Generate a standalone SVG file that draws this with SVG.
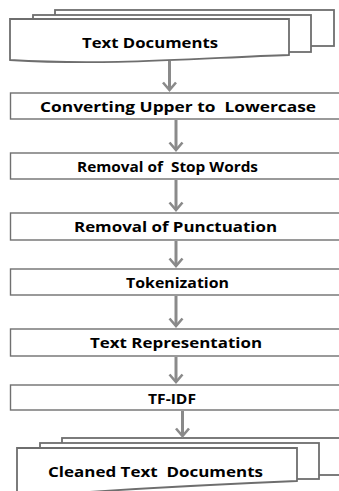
<svg xmlns="http://www.w3.org/2000/svg" width="339" height="491" viewBox="0 0 339 491">
  <style>
    .sheet { fill: #ffffff; stroke: #6e6e6e; stroke-width: 1.8; }
    .box { fill: #ffffff; stroke: #707070; stroke-width: 1.4; }
    .label { font-family: "Open Sans", "DejaVu Sans", sans-serif; font-weight: 700; font-size: 15px; fill: #000000; text-anchor: middle; white-space: pre; }
    .flow { stroke: #8a8a8a; stroke-width: 3; fill: none; marker-end: url(#chevron); }
  </style>
  <defs>
    <marker id="chevron" markerUnits="userSpaceOnUse" viewBox="-10 -9 12 18" refX="0" refY="0" markerWidth="12" markerHeight="18" orient="auto" overflow="visible">
      <path d="M-7.5,-6.5 L0,0 L-7.5,6.5" fill="none" stroke="#8a8a8a" stroke-width="2.6" stroke-linejoin="miter"/>
    </marker>
  </defs>

  <rect width="339" height="491" fill="#ffffff"/>

  <!-- source documents (stacked sheets) -->
  <g id="text-documents">
    <rect class="sheet" x="55" y="10" width="279" height="36"/>
    <rect class="sheet" x="33" y="15" width="278" height="37"/>
    <path class="sheet" d="M10,19 H289 V55 C200,58 110,66 10,60 Z"/>
    <text class="label" x="150" y="47.5" font-size="16" textLength="136" lengthAdjust="spacingAndGlyphs">Text Documents</text>
  </g>

  <g id="lowercase">
    <rect class="box" x="10.5" y="93" width="340" height="26"/>
    <text class="label" x="178" y="111.5" textLength="276" lengthAdjust="spacingAndGlyphs" xml:space="preserve">Converting Upper to  Lowercase</text>
  </g>

  <g id="stop-words">
    <rect class="box" x="10.5" y="153" width="340" height="26"/>
    <text class="label" x="167.5" y="172" textLength="181" lengthAdjust="spacingAndGlyphs" xml:space="preserve">Removal of  Stop Words</text>
  </g>

  <g id="punctuation">
    <rect class="box" x="10.5" y="213" width="340" height="27"/>
    <text class="label" x="175.5" y="232" textLength="203" lengthAdjust="spacingAndGlyphs">Removal of Punctuation</text>
  </g>

  <g id="tokenization">
    <rect class="box" x="10.5" y="269" width="340" height="26"/>
    <text class="label" x="177.5" y="287.5" textLength="103" lengthAdjust="spacingAndGlyphs">Tokenization</text>
  </g>

  <g id="representation">
    <rect class="box" x="10.5" y="329" width="340" height="27"/>
    <text class="label" x="176" y="348" textLength="172" lengthAdjust="spacingAndGlyphs">Text Representation</text>
  </g>

  <g id="tf-idf">
    <rect class="box" x="10.5" y="385" width="340" height="25"/>
    <text class="label" x="172" y="403.5" textLength="48" lengthAdjust="spacingAndGlyphs">TF-IDF</text>
  </g>

  <!-- output documents (stacked sheets) -->
  <g id="cleaned-documents">
    <rect class="sheet" x="62" y="438" width="290" height="37"/>
    <rect class="sheet" x="40" y="443" width="279" height="36"/>
    <path class="sheet" d="M17,448 H297 V481 C200,485 110,490 17,497 Z"/>
    <text class="label" x="155.5" y="476.5" textLength="215" lengthAdjust="spacingAndGlyphs" xml:space="preserve">Cleaned Text  Documents</text>
  </g>

  <g id="connectors">
    <line class="flow" x1="169.5" y1="61" x2="169.5" y2="90"/>
    <line class="flow" x1="176" y1="120" x2="176" y2="150"/>
    <line class="flow" x1="176" y1="180" x2="176" y2="210"/>
    <line class="flow" x1="176" y1="241" x2="176" y2="266"/>
    <line class="flow" x1="176" y1="296" x2="176" y2="326"/>
    <line class="flow" x1="176" y1="357" x2="176" y2="382"/>
    <line class="flow" x1="182.5" y1="411" x2="182.5" y2="436"/>
  </g>
</svg>
